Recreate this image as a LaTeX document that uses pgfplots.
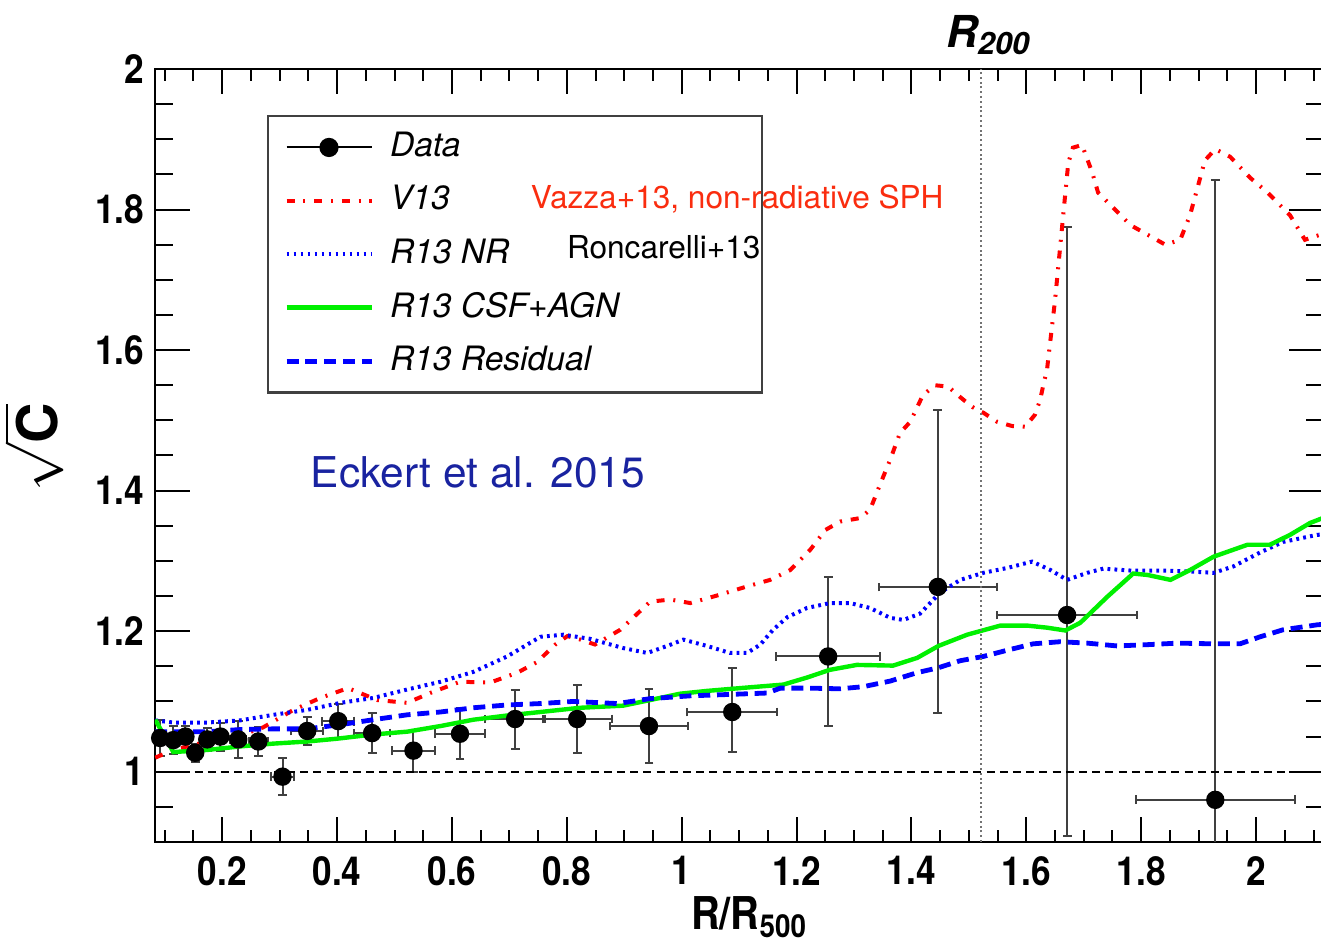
\documentclass[border=0pt]{standalone}
\usepackage{fontspec}
\setmainfont{TeX Gyre Heros}
\newfontfamily\condfont[FakeStretch=0.88]{TeX Gyre Heros}
\usepackage{pgfplots}
\pgfplotsset{compat=1.18}
\usepackage{pgfplotstable}
\definecolor{rootred}{RGB}{255,0,0}
\definecolor{rootblue}{RGB}{0,0,255}
\definecolor{rootgreen}{RGB}{0,240,0}
\definecolor{annred}{RGB}{250,45,15}
\definecolor{eckblue}{RGB}{25,35,160}

\pgfplotstableread{
x y ex eyp eym
0.092 1.048 0.008 0.025 0.025
0.115 1.045 0.008 0.020 0.020
0.136 1.050 0.008 0.015 0.015
0.153 1.027 0.008 0.013 0.013
0.174 1.046 0.010 0.016 0.016
0.197 1.050 0.010 0.020 0.020
0.228 1.046 0.014 0.026 0.026
0.263 1.043 0.016 0.021 0.021
0.305 0.993 0.020 0.026 0.026
0.348 1.058 0.028 0.020 0.020
0.402 1.072 0.028 0.024 0.024
0.461 1.055 0.032 0.028 0.028
0.533 1.030 0.038 0.030 0.030
0.614 1.054 0.044 0.036 0.036
0.710 1.075 0.052 0.042 0.042
0.818 1.075 0.060 0.048 0.048
0.943 1.065 0.068 0.053 0.053
1.088 1.085 0.078 0.063 0.057
1.255 1.164 0.090 0.113 0.099
1.446 1.263 0.103 0.252 0.179
1.671 1.223 0.122 0.552 0.315
1.929 0.960 0.138 0.882 0.500
}\datatab

\begin{document}
\begin{tikzpicture}
\useasboundingbox (-38.75pt,-25.75pt) rectangle (291.5pt,210.5pt);
\begin{axis}[
  at={(0pt,0pt)}, anchor=south west,
  scale only axis, width=292.3pt, height=193.25pt,
  xmin=0.083, xmax=2.1186, ymin=0.9, ymax=2.0,
  xtick={0.2,0.4,0.6,0.8,1,1.2,1.4,1.6,1.8,2},
  minor xtick={0.1,0.15,0.25,0.3,0.35,0.45,0.5,0.55,0.65,0.7,0.75,0.85,0.9,0.95,1.05,1.1,1.15,1.25,1.3,1.35,1.45,1.5,1.55,1.65,1.7,1.75,1.85,1.9,1.95,2.05,2.1},
  ytick={1,1.2,1.4,1.6,1.8,2},
  minor ytick={0.95,1.05,1.1,1.15,1.25,1.3,1.35,1.45,1.5,1.55,1.65,1.7,1.75,1.85,1.9,1.95},
  tick align=inside, tick pos=both,
  xtick style={/pgfplots/major tick length=6.25pt,/pgfplots/minor tick length=3pt},
  ytick style={/pgfplots/major tick length=8.75pt,/pgfplots/minor tick length=4.5pt},
  every tick/.style={black, line width=0.5pt},
  axis line style={black, line width=0.6pt},
  /pgf/number format/assume math mode=true,
  tick label style={font=\condfont\bfseries\fontsize{10}{12}\selectfont},
  yticklabel style={xshift=0.8pt},
  xlabel={\condfont\bfseries\fontsize{11.3}{13}\selectfont R/R\textsubscript{500}},
  xlabel style={at={(axis description cs:0.4465,-0.1138)}, anchor=base west},
  ylabel={\fontsize{14}{15}\selectfont$\sqrt{\textbf{C}}$},
  ylabel style={at={(axis description cs:-0.104,0.51)}, anchor=center, inner sep=0pt},
  legend cell align=left,
  legend image code/.code={\draw[#1] (0pt,0pt) -- (21.25pt,0pt);},
  legend style={at={(axis description cs:0.0958,0.9405)}, anchor=north west,
    draw=black!75, line width=0.6pt, fill=white,
    inner xsep=4pt, inner ysep=3.5pt, row sep=4.7pt,
    nodes={inner sep=0.5pt, font=\itshape\fontsize{8.4}{10}\selectfont},
    /tikz/every odd column/.append style={column sep=3.5pt}},
]
% data points with error bars
\addplot[only marks, mark=*, mark size=2.1pt, black,
  legend image code/.code={\draw[black,line width=0.5pt] (0pt,0pt) -- (21.25pt,0pt); \fill[black] (10.6pt,0pt) circle (2.1pt);},
  error bars/.cd, x dir=both, x explicit, y dir=both, y explicit,
  error mark=-,
  error bar style={line width=0.5pt, black!75},
  error mark options={rotate=90, line width=0.5pt, black!75, mark size=1.1pt}]
  table[x=x, y=y, x error=ex, y error plus=eyp, y error minus=eym] {\datatab};
\addlegendentry{\makebox[88.5pt][l]{Data}}

% V13
\addplot[rootred, line width=1pt, dash pattern=on 2pt off 2.2pt on 0.5pt off 2.2pt] coordinates {
(0.0834,1.020) (0.115,1.031) (0.174,1.043) (0.226,1.050) (0.271,1.063) (0.324,1.088)
(0.371,1.105) (0.419,1.119) (0.470,1.102) (0.522,1.098) (0.562,1.112) (0.614,1.128)
(0.667,1.127) (0.714,1.141) (0.748,1.156) (0.780,1.181) (0.801,1.193) (0.824,1.188)
(0.849,1.181) (0.893,1.202) (0.945,1.242) (0.980,1.245) (1.015,1.240) (1.067,1.252)
(1.111,1.263) (1.154,1.273) (1.189,1.287) (1.224,1.316) (1.250,1.344) (1.276,1.356)
(1.311,1.361) (1.328,1.373) (1.345,1.408) (1.363,1.444) (1.380,1.482) (1.398,1.498)
(1.420,1.536) (1.441,1.550) (1.464,1.548) (1.485,1.533) (1.506,1.519) (1.525,1.511)
(1.549,1.498) (1.575,1.492) (1.598,1.491) (1.615,1.508) (1.624,1.529) (1.629,1.548)
(1.636,1.572) (1.650,1.671) (1.668,1.824) (1.673,1.866) (1.681,1.888) (1.697,1.892)
(1.715,1.852) (1.725,1.824) (1.746,1.807) (1.781,1.778) (1.842,1.750) (1.868,1.757)
(1.885,1.792) (1.897,1.828) (1.911,1.870) (1.929,1.886) (1.955,1.875) (1.990,1.845)
(2.019,1.825) (2.059,1.792) (2.085,1.757) (2.111,1.764) (2.12,1.762)
};
\addlegendentry{V13}

% R13 NR
\addplot[rootblue, line width=1pt, dash pattern=on 0.7pt off 1.05pt] coordinates {
(0.0834,1.073) (0.115,1.070) (0.174,1.070) (0.231,1.073) (0.289,1.081) (0.348,1.088)
(0.406,1.098) (0.463,1.105) (0.522,1.117) (0.580,1.128) (0.637,1.142) (0.696,1.164)
(0.754,1.192) (0.794,1.195) (0.841,1.189) (0.898,1.176) (0.940,1.169) (0.975,1.179)
(1.003,1.188) (1.044,1.179) (1.084,1.169) (1.114,1.169) (1.137,1.181) (1.159,1.202)
(1.184,1.220) (1.218,1.233) (1.258,1.240) (1.293,1.240) (1.328,1.233) (1.363,1.219)
(1.386,1.216) (1.415,1.225) (1.450,1.255) (1.485,1.273) (1.525,1.283) (1.567,1.290)
(1.610,1.299) (1.642,1.287) (1.671,1.273) (1.706,1.283) (1.734,1.289) (1.786,1.286)
(1.845,1.286) (1.885,1.285) (1.926,1.283) (1.960,1.292) (2.007,1.312) (2.047,1.327)
(2.106,1.337) (2.12,1.338)
};
\addlegendentry{R13 NR}

% R13 CSF+AGN
\addplot[rootgreen, line width=1.1pt] coordinates {
(0.0834,1.074) (0.115,1.028) (0.174,1.031) (0.231,1.036) (0.289,1.040) (0.348,1.043)
(0.400,1.047) (0.463,1.053) (0.522,1.057) (0.580,1.065) (0.637,1.074) (0.696,1.080)
(0.754,1.085) (0.823,1.091) (0.898,1.094) (0.945,1.102) (0.997,1.111) (1.044,1.115)
(1.102,1.119) (1.177,1.124) (1.218,1.134) (1.258,1.145) (1.305,1.152) (1.368,1.151)
(1.410,1.162) (1.447,1.179) (1.497,1.195) (1.555,1.208) (1.601,1.208) (1.636,1.205)
(1.668,1.201) (1.694,1.212) (1.741,1.249) (1.786,1.282) (1.811,1.280) (1.851,1.273)
(1.885,1.287) (1.926,1.306) (1.985,1.323) (2.024,1.323) (2.059,1.337) (2.094,1.354)
(2.113,1.360) (2.12,1.362)
};
\addlegendentry{R13 CSF+AGN}

% R13 Residual
\addplot[rootblue, line width=1.2pt, dash pattern=on 3pt off 1.7pt] coordinates {
(0.0834,1.057) (0.115,1.057) (0.174,1.057) (0.231,1.060) (0.289,1.061) (0.348,1.061)
(0.406,1.067) (0.463,1.074) (0.522,1.081) (0.580,1.085) (0.637,1.091) (0.696,1.095)
(0.754,1.097) (0.811,1.100) (0.888,1.097) (0.945,1.104) (1.015,1.108) (1.084,1.110)
(1.149,1.112) (1.172,1.119) (1.218,1.119) (1.276,1.118) (1.316,1.121) (1.363,1.129)
(1.410,1.141) (1.447,1.148) (1.485,1.158) (1.525,1.164) (1.572,1.174) (1.612,1.182)
(1.659,1.185) (1.706,1.183) (1.758,1.179) (1.816,1.181) (1.863,1.183) (1.926,1.182)
(1.972,1.182) (2.007,1.192) (2.047,1.202) (2.106,1.209) (2.12,1.210)
};
\addlegendentry{R13 Residual}

% reference lines
\addplot[black, line width=0.5pt, dash pattern=on 2pt off 1.3pt, forget plot] coordinates {(0.083,1) (2.1186,1)};
\addplot[black!55, line width=0.6pt, dash pattern=on 0.5pt off 0.7pt, forget plot] coordinates {(1.521,0.9) (1.521,2.0)};

% anchor points for annotations (drawn after the axis, above the legend)
\coordinate (vazza) at (axis cs:0.736,1.802);
\coordinate (ronc) at (axis cs:0.799,1.731);
\coordinate (eck) at (axis cs:0.353,1.404);
\coordinate (rtwo) at (axis cs:1.459,2.0);
\end{axis}
\node[anchor=base west, font=\fontsize{7.9}{9}\selectfont, text=annred, inner sep=0pt] at (vazza) {Vazza+13, non-radiative SPH};
\node[anchor=base west, font=\fontsize{7.9}{9}\selectfont, text=black, inner sep=0pt] at (ronc) {Roncarelli+13};
\node[anchor=base west, font=\fontsize{10.6}{12}\selectfont, text=eckblue, inner sep=0pt] at (eck) {Eckert et al. 2015};
\node[anchor=base west, font=\bfseries\itshape\fontsize{11}{13}\selectfont, inner sep=0pt, yshift=5.5pt] at (rtwo) {R\textsubscript{200}};
\end{tikzpicture}
\end{document}
